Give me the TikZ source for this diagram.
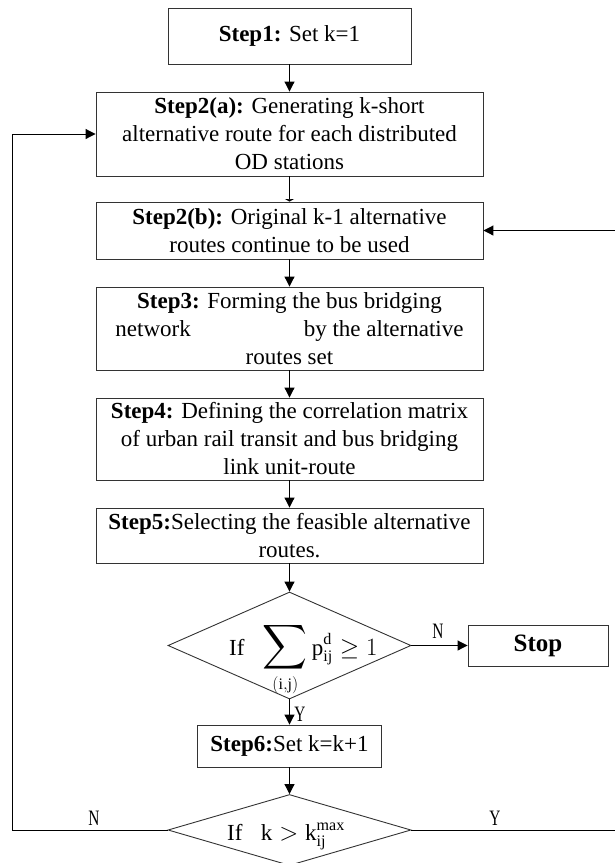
\documentclass[tikz,border=0pt]{standalone}
\usepackage{amsmath}
\usepackage{exscale}
\usepackage{fontspec}
\setmainfont{Liberation Serif}
\newfontfamily\ynfont[FakeStretch=0.7]{Liberation Serif}
\usetikzlibrary{arrows.meta,shapes.geometric}

\begin{document}
\begin{tikzpicture}[x=1pt,y=-1pt,
  every node/.style={font=\fontsize{23}{28}\selectfont},
  stepbox/.style={draw=black!80,line width=0.9pt,inner sep=0pt,minimum width=387pt,align=center},
  decision/.style={draw=black!80,line width=0.9pt,diamond,inner sep=0pt,minimum width=243pt},
  yn/.style={font=\fontsize{22}{22}\ynfont,inner sep=0pt},
  arr/.style={line width=1pt,-{Triangle[length=10pt,width=10pt]}},
  tick/.style={line width=1pt,-{Triangle[length=2.5pt,width=9pt]}}]
  \useasboundingbox (0,0) rectangle (614,863);
  \node[stepbox,minimum width=243pt,minimum height=56pt] (s1) at (289.5,36) {\textbf{Step1:} Set k=1};
  \node[stepbox,minimum height=84pt] (s2a) at (289.5,134) {\textbf{Step2(a):} Generating k-short\\alternative route for each distributed\\OD stations};
  \node[stepbox,minimum height=57pt] (s2b) at (289.5,230.5) {\textbf{Step2(b):} Original k-1 alternative\\routes continue to be used};
  \node[stepbox,minimum height=83pt] (s3) at (289.5,328.5) {\textbf{Step3:} Forming the bus bridging\\network\hspace{113pt}by the alternative\\routes set};
  \node[stepbox,minimum height=82pt] (s4) at (289.5,439) {\textbf{Step4:} Defining the correlation matrix\\of urban rail transit and bus bridging\\link unit-route};
  \node[stepbox,minimum height=55pt] (s5) at (289.5,535.5) {\textbf{Step5:}Selecting the feasible alternative\\routes.};
  \node[decision,minimum height=107pt] (dec1) at (289.5,645.5) {};
  \node[anchor=base west,inner sep=0pt] (cond1) at (229,655) {If\hspace{0.8em}$\displaystyle\mathop{\scalebox{1.25}{$\displaystyle\sum$}}_{(\mathrm{i,j})}\mathrm{p}_{\mathrm{ij}}^{\mathrm{d}}\geq 1$};
  \node[stepbox,minimum width=140pt,minimum height=41pt,font=\fontsize{25}{28}\selectfont] (stop) at (538,645.5) {\textbf{Stop}};
  \node[stepbox,minimum width=184pt,minimum height=42pt] (s6) at (289.5,746) {\textbf{Step6:}Set k=k+1};
  \node[decision,minimum height=71pt] (dec2) at (289.5,830) {};
  \node[anchor=base west,inner sep=0pt] (cond2) at (227,840) {If\hspace{0.8em}$\mathrm{k}>\mathrm{k}_{\mathrm{ij}}^{\mathrm{max}}$};
  \node[yn] (n1) at (438,631) {N};
  \node[yn] (y1) at (300,714) {Y};
  \node[yn] (n2) at (94,818) {N};
  \node[yn] (y2) at (495,818) {Y};
  \coordinate (lft) at (12.5,0);
  \coordinate (rgt) at (615,0);
  \draw[arr] (s1) -- (s2a);
  \draw[tick] (s2a) -- (s2b);
  \draw[arr] (s2b) -- (s3);
  \draw[arr] (s3) -- (s4);
  \draw[arr] (s4) -- (s5);
  \draw[arr] (s5) -- (dec1);
  \draw[arr] (dec1) -- (stop);
  \draw[arr] (dec1) -- (s6);
  \draw[arr] (s6) -- (dec2);
  \draw[arr] (dec2.west) -- (dec2.west -| lft) -- (lft |- s2a.west) -- (s2a.west);
  \draw[arr] (dec2.east) -- (dec2.east -| rgt) -- (rgt |- s2b.east) -- (s2b.east);
\end{tikzpicture}
\end{document}
